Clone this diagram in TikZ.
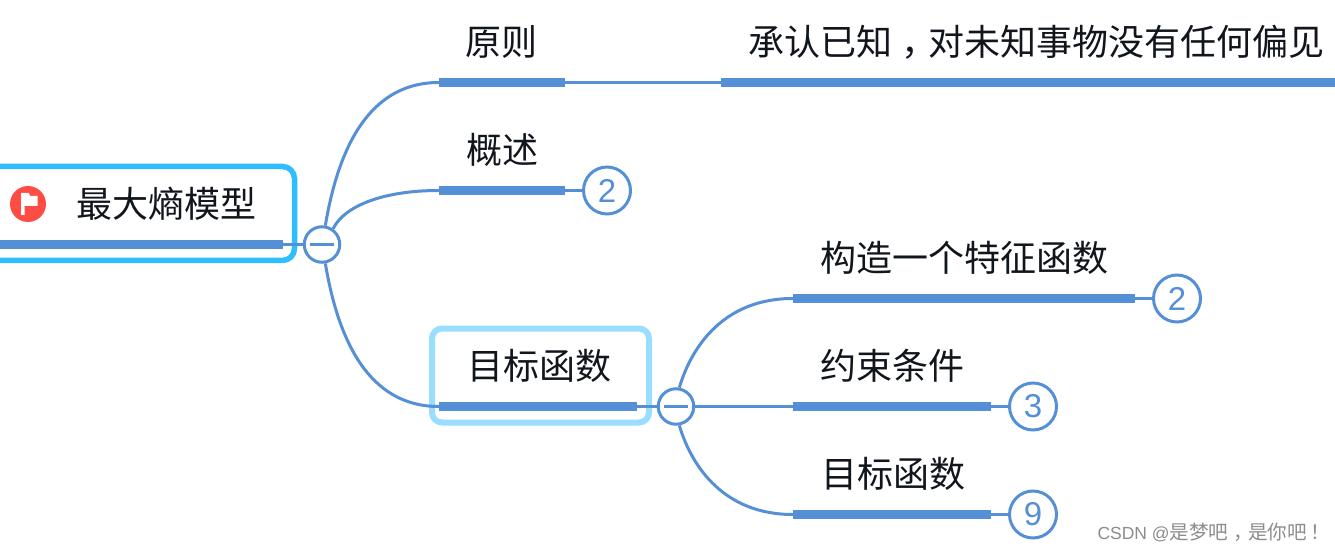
\documentclass[tikz,border=0pt]{standalone}
\usepackage{fontspec}
\setmainfont{Liberation Sans}
\newfontfamily\cjk{Noto Sans CJK SC}
\usepackage{tikz}
\usetikzlibrary{positioning}
\definecolor{branchblue}{HTML}{558FD6}
\definecolor{rootcyan}{HTML}{2EBDFF}
\definecolor{focuscyan}{HTML}{99DDFF}
\definecolor{flagred}{HTML}{FF4D45}
\definecolor{inkblack}{HTML}{11151C}
\newcommand{\shifted}[2]{\hspace{#1}#2\hspace{-#1}}
\tikzset{
    bar/.style={fill=branchblue, inner sep=0pt, minimum height=9pt},
    topic/.style={inner sep=0pt, text=inkblack, font=\cjk\fontsize{36}{40}\selectfont},
    link/.style={draw=branchblue, line width=3pt},
    fold/.style={circle, draw=branchblue, line width=3pt, fill=white, inner sep=0pt, minimum size=35.5pt,
        path picture={\draw [branchblue, line width=3pt] (path picture bounding box.center) +(-12,0) -- +(12,0);}},
    count/.style={circle, draw=branchblue, line width=3pt, fill=white, inner sep=0pt, minimum size=47pt,
        text=branchblue, font=\fontsize{33}{36}\selectfont},
}
\begin{document}
\begin{tikzpicture}[x=1pt,y=-1pt]
    \useasboundingbox (0,0) rectangle (1335,553);
    % frames
    \draw [rootcyan, line width=5.5pt, rounded corners=12pt] (-20,166.5) rectangle (294.5,260.5);
    \draw [focuscyan, line width=6pt, rounded corners=10pt] (432,328.5) rectangle (649,422.5);
    % bars
    \node [bar, minimum width=303pt] (root) at (131.5,244.5) {};
    \node [bar, minimum width=126pt] (rule) at (502,82.5) {};
    \node [bar, minimum width=614pt] (ruletext) at (1028,82.5) {};
    \node [bar, minimum width=126pt] (summary) at (502,190.5) {};
    \node [bar, minimum width=198pt] (goal) at (538,406.5) {};
    \node [bar, minimum width=342pt] (feature) at (964,298.5) {};
    \node [bar, minimum width=198pt] (limit) at (892,406.5) {};
    \node [bar, minimum width=198pt] (target) at (892,514.5) {};
    % fold marks and counters
    \node [fold] (foldroot) at (322,244.5) {};
    \node [fold] (foldgoal) at (676,406.5) {};
    \node [count] (nsummary) at (607,190.5) {2};
    \node [count] (nfeature) at (1177,298.5) {2};
    \node [count] (nlimit) at (1033,406.5) {3};
    \node [count] (ntarget) at (1033,514.5) {9};
    % labels
    \node [topic] (trootlabel) at (166,204) {最大熵模型};
    \node [topic] (trule) at (501.5,42) {原则};
    \node [topic] (truletext) at (1036,42) {承认已知\shifted{9pt}{，}对未知事物没有任何偏见};
    \node [topic] (tsummary) at (502,150) {概述};
    \node [topic] (tgoal) at (539,366) {目标函数};
    \node [topic] (tfeature) at (964,258) {构造一个特征函数};
    \node [topic] (tlimit) at (892,366) {约束条件};
    \node [topic] (ttarget) at (893,474) {目标函数};
    \node [inner sep=0pt, text=black!45, font=\fontsize{17.5}{20}\selectfont] (mark) at (1214,532.5) {CSDN @{\cjk\fontsize{19.6}{20}\selectfont 是梦吧\shifted{5pt}{，}是你吧\shifted{4pt}{！}}};
    % flag
    \node [circle, fill=flagred, inner sep=0pt, minimum size=36pt] (flag) at (28,204) {};
    \fill [white] (21,193) -- (29,193) -- (30,196) -- (37.5,196) -- (37.5,206) -- (24.5,206) -- (24.5,215) -- (21,215) -- cycle;
    % connectors
    \draw [link] (root.east) -- (foldroot.west);
    \draw [link] (foldroot.80) .. controls (338,150) and (368,82.5) .. (rule.west);
    \draw [link] (foldroot.55) .. controls (345,205) and (385,190.5) .. (summary.west);
    \draw [link] (foldroot.-80) .. controls (338,339) and (368,406.5) .. (goal.west);
    \draw [link] (rule.east) -- (ruletext.west);
    \draw [link] (summary.east) -- (nsummary.west);
    \draw [link] (goal.east) -- (foldgoal.west);
    \draw [link] (foldgoal.80) .. controls (692,345) and (725,298.5) .. (feature.west);
    \draw [link] (foldgoal.east) -- (limit.west);
    \draw [link] (foldgoal.-80) .. controls (692,468) and (725,514.5) .. (target.west);
    \draw [link] (feature.east) -- (nfeature.west);
    \draw [link] (limit.east) -- (nlimit.west);
    \draw [link] (target.east) -- (ntarget.west);
\end{tikzpicture}
\end{document}
